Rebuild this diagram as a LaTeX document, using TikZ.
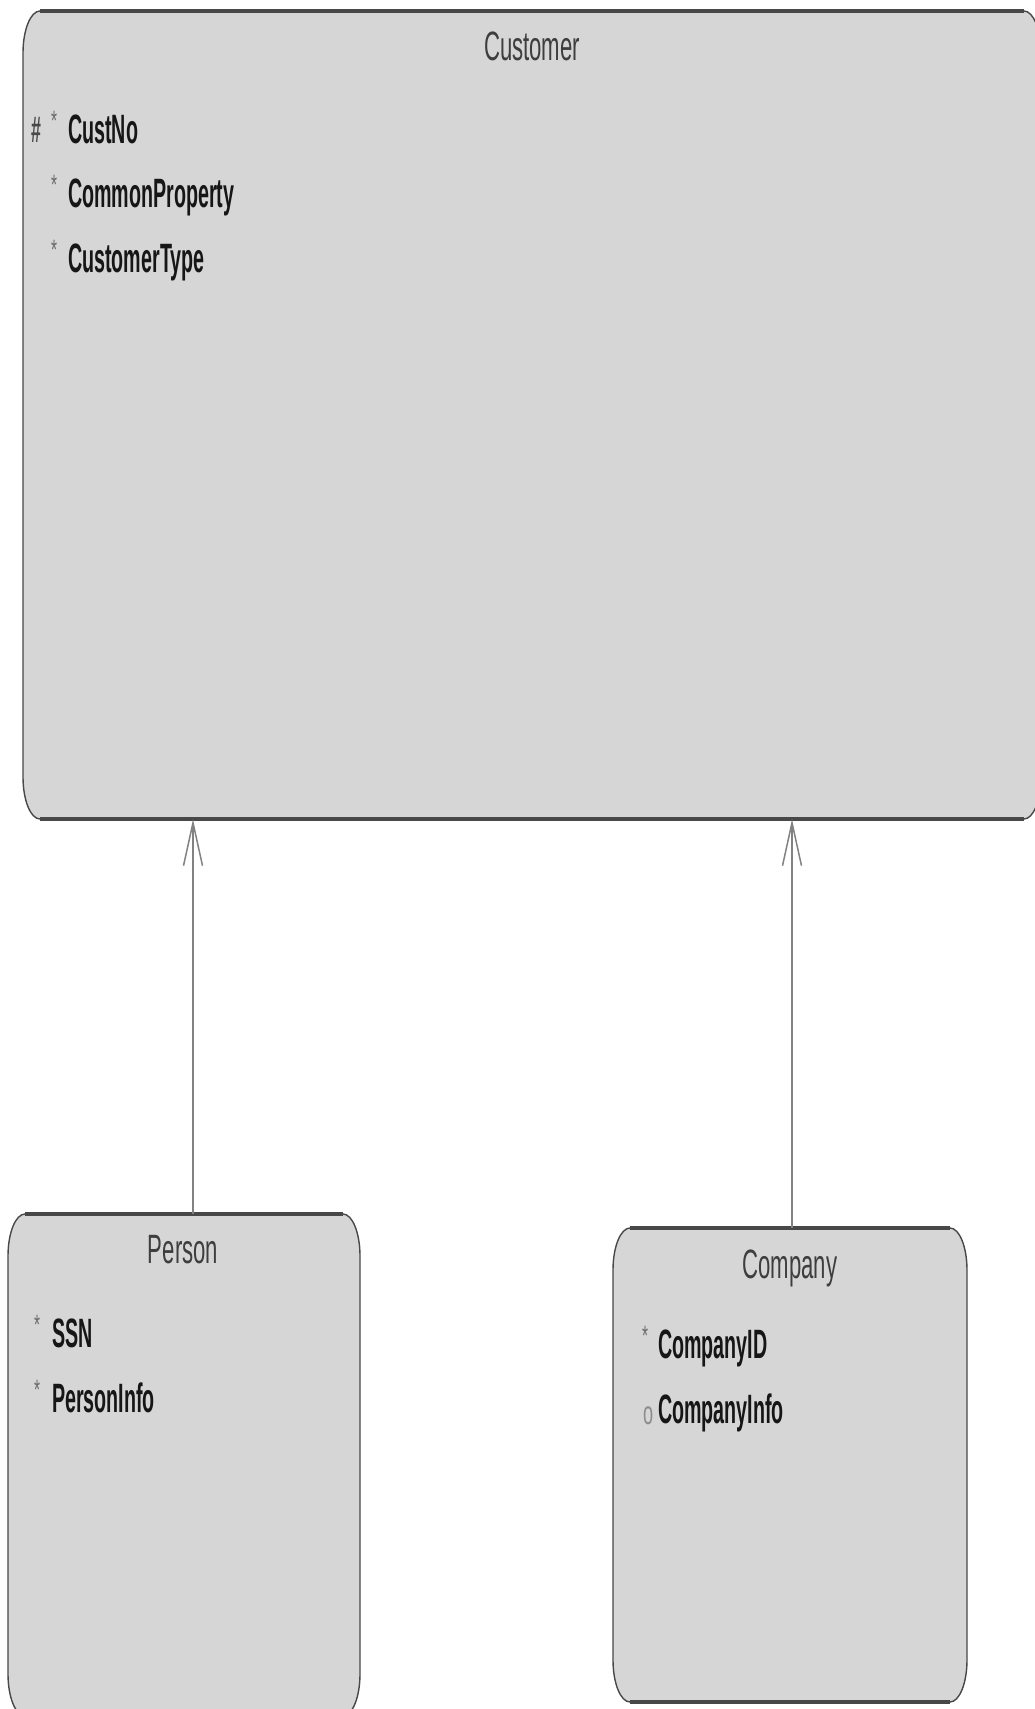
\documentclass[tikz,border=0pt]{standalone}
\usepackage{fontspec}
\setmainfont{Liberation Sans}
\newfontfamily\umltitlefont[FakeStretch=0.54]{Liberation Sans}
\newfontfamily\umlattrfont[FakeStretch=0.48]{Liberation Sans Bold}
\newfontfamily\umlmarkfont[FakeStretch=0.55]{Liberation Sans}
\usetikzlibrary{arrows.meta}
\definecolor{boxfill}{RGB}{214,214,214}
\definecolor{boxline}{RGB}{72,72,72}
\definecolor{titlecol}{RGB}{62,62,62}
\definecolor{attrcol}{RGB}{22,22,22}
\definecolor{markcol}{RGB}{105,105,105}
\definecolor{optcol}{RGB}{140,140,140}
\definecolor{arrowcol}{RGB}{130,130,130}
% #1 name, #2 left, #3 right, #4 top, #5 bottom (pixels, y downwards)
\newcommand\umlentity[5]{%
  \path[fill=boxfill, draw=boxline, line width=1.4pt]
    (#2,-#4-42) arc[start angle=180,end angle=90,x radius=17,y radius=42]
    -- (#3-17,-#4) arc[start angle=90,end angle=0,x radius=17,y radius=42]
    -- (#3,-#5+42) arc[start angle=0,end angle=-90,x radius=17,y radius=42]
    -- (#2+17,-#5) arc[start angle=-90,end angle=-180,x radius=17,y radius=42]
    -- cycle;
  \draw[boxline, line width=3.4pt] (#2+17,-#4) -- (#3-17,-#4);
  \draw[boxline, line width=3.4pt] (#2+17,-#5) -- (#3-17,-#5);
  \node[inner sep=0pt, minimum width=#3-#2, minimum height=#5-#4] (#1)
    at ({(#2+#3)/2},{-(#4+#5)/2}) {};
}
\begin{document}
\begin{tikzpicture}[x=1pt, y=1pt,
  titletext/.style={inner sep=0pt, anchor=base, text=titlecol,
    font={\umltitlefont\fontsize{41pt}{41pt}\selectfont}},
  attrtext/.style={inner sep=0pt, anchor=base west, text=attrcol,
    font={\umlattrfont\fontsize{41pt}{41pt}\selectfont}},
  keymark/.style={inner sep=0pt, anchor=base west, text=boxline,
    font={\umlattrfont\fontsize{37pt}{37pt}\selectfont}},
  reqmark/.style={inner sep=0pt, anchor=base west, text=markcol,
    font={\umlmarkfont\fontsize{28pt}{28pt}\selectfont}},
  optmark/.style={inner sep=0pt, anchor=base west, text=optcol,
    font={\umlmarkfont\fontsize{33pt}{33pt}\selectfont}},
  genarrow/.style={draw=arrowcol, line width=1.5pt,
    -{Straight Barb[length=43pt, width=19pt, line width=1.5pt]}}
]
\clip (0,0) rectangle (1035,-1709);
\useasboundingbox (0,0) rectangle (1035,-1709);
\fill[white] (0,0) rectangle (1035,-1709);

% Customer
\umlentity{customer}{23}{1041}{11}{819}
\node[titletext] (customertitle) at (532,-60) {Customer};
\node[keymark] (cm1) at (31,-142) {\#};
\node[reqmark] (cr1) at (51,-130) {*};
\node[attrtext] (ca1) at (68,-143) {CustNo};
\node[reqmark] (cr2) at (51,-194) {*};
\node[attrtext] (ca2) at (68,-207) {CommonProperty};
\node[reqmark] (cr3) at (51,-259) {*};
\node[attrtext] (ca3) at (68,-272) {CustomerType};

% Person
\umlentity{person}{8}{360}{1214}{1716}
\node[titletext] (persontitle) at (183,-1263) {Person};
\node[reqmark] (pr1) at (34,-1334) {*};
\node[attrtext] (pa1) at (52,-1347) {SSN};
\node[reqmark] (pr2) at (34,-1399) {*};
\node[attrtext] (pa2) at (52,-1412) {PersonInfo};

% Company
\umlentity{company}{613}{967}{1228}{1702}
\node[titletext] (companytitle) at (790,-1278) {Company};
\node[reqmark] (kr1) at (642,-1345) {*};
\node[attrtext] (ka1) at (658,-1358) {CompanyID};
\node[optmark] (ko2) at (643,-1424) {o};
\node[attrtext] (ka2) at (658,-1423) {CompanyInfo};

% Generalisation arrows
\coordinate (la) at (193,0);
\coordinate (ra) at (792,0);
\draw[genarrow] (person.north -| la) -- (customer.south -| la);
\draw[genarrow] (company.north -| ra) -- (customer.south -| ra);
\end{tikzpicture}
\end{document}
